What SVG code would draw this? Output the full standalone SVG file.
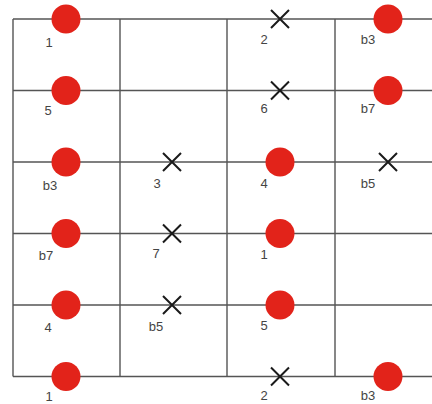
<svg xmlns="http://www.w3.org/2000/svg" width="432" height="404" viewBox="0 0 432 404">
<style>
.g{stroke:#555;stroke-width:1.4;fill:none}
.dot{fill:#e2231a}
.x{stroke:#1a1a1a;stroke-width:2;fill:none}
.t{font-family:"Liberation Sans",Arial,sans-serif;font-size:13px;fill:#444;text-anchor:middle}
</style>
<defs>
<circle id="d" r="14.5" class="dot"/>
<path id="xm" d="M-9,-9L9,9M9,-9L-9,9" class="x"/>
</defs>
<rect width="432" height="404" fill="#fff"/>
<g id="connectors">
<path class="g" d="M13,19H432M13,90.5H432M13,162H432M13,233.5H432M13,305H432M13,376.5H432"/>
<path class="g" d="M13,19V376.5M120,19V376.5M227,19V376.5M335,19V376.5"/>
</g>
<g id="n-r0c1"><use href="#d" x="66" y="19"/><text class="t" x="49" y="47">1</text></g>
<g id="n-r0c3"><use href="#xm" x="280" y="19"/><text class="t" x="264" y="44">2</text></g>
<g id="n-r0c4"><use href="#d" x="388" y="19"/><text class="t" x="368" y="44">b3</text></g>
<g id="n-r1c1"><use href="#d" x="66" y="90.5"/><text class="t" x="48" y="115">5</text></g>
<g id="n-r1c3"><use href="#xm" x="280" y="90.5"/><text class="t" x="264" y="113">6</text></g>
<g id="n-r1c4"><use href="#d" x="388" y="90.5"/><text class="t" x="368" y="113">b7</text></g>
<g id="n-r2c1"><use href="#d" x="66" y="162"/><text class="t" x="50" y="190">b3</text></g>
<g id="n-r2c2"><use href="#xm" x="172" y="162"/><text class="t" x="157" y="188">3</text></g>
<g id="n-r2c3"><use href="#d" x="280" y="162"/><text class="t" x="264" y="188">4</text></g>
<g id="n-r2c4"><use href="#xm" x="388" y="162"/><text class="t" x="368" y="188">b5</text></g>
<g id="n-r3c1"><use href="#d" x="66" y="233.5"/><text class="t" x="46" y="260">b7</text></g>
<g id="n-r3c2"><use href="#xm" x="172" y="233.5"/><text class="t" x="156" y="258">7</text></g>
<g id="n-r3c3"><use href="#d" x="280" y="233.5"/><text class="t" x="264" y="259">1</text></g>
<g id="n-r4c1"><use href="#d" x="66" y="305"/><text class="t" x="48" y="332">4</text></g>
<g id="n-r4c2"><use href="#xm" x="172" y="305"/><text class="t" x="156" y="331">b5</text></g>
<g id="n-r4c3"><use href="#d" x="280" y="305"/><text class="t" x="264" y="330">5</text></g>
<g id="n-r5c1"><use href="#d" x="66" y="376.5"/><text class="t" x="49" y="401">1</text></g>
<g id="n-r5c3"><use href="#xm" x="280" y="376.5"/><text class="t" x="264" y="400">2</text></g>
<g id="n-r5c4"><use href="#d" x="388" y="376.5"/><text class="t" x="368" y="400">b3</text></g>
</svg>
